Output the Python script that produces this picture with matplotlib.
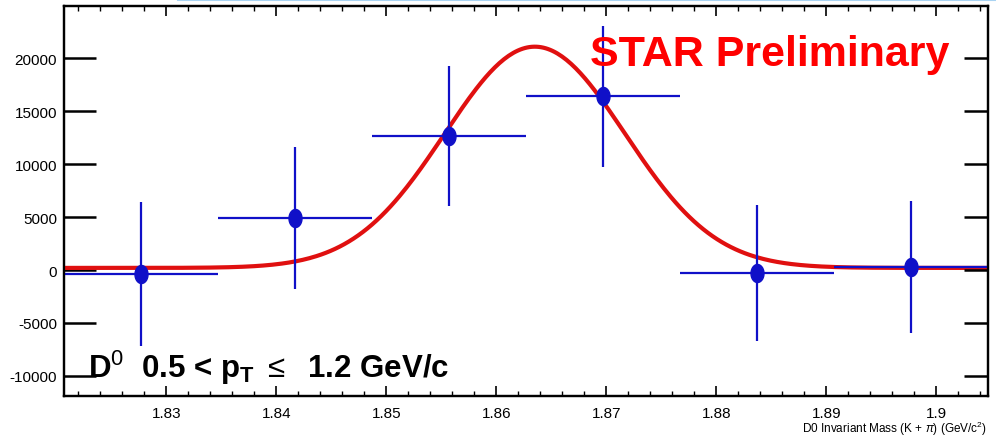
import numpy as np
import matplotlib

matplotlib.use("Agg")
import matplotlib.pyplot as plt
from matplotlib.lines import Line2D
from matplotlib.ticker import MultipleLocator, FuncFormatter

plt.rcParams["font.family"] = ["Liberation Sans", "DejaVu Sans"]
plt.rcParams["axes.unicode_minus"] = False
plt.rcParams["mathtext.fontset"] = "custom"
plt.rcParams["mathtext.rm"] = "Liberation Sans"
plt.rcParams["mathtext.bf"] = "Liberation Sans:bold"
plt.rcParams["mathtext.it"] = "Liberation Sans:italic"

# ---------- data ----------
mass = [1.8277, 1.8417, 1.8557, 1.8697, 1.8837, 1.8977]
counts = [-380, 4935, 12650, 16410, -300, 285]
counts_err = [6830, 6735, 6640, 6640, 6400, 6265]
bin_half_width = [0.007, 0.007, 0.007, 0.007, 0.007, 0.007]

# fit: gaussian + constant, parameters
fit_amp = 20900
fit_mean = 1.8635
fit_sigma = 0.0082
fit_const = 200

BLUE = "#1010c8"
RED = "#e01010"

fig = plt.figure(figsize=(9.96, 4.39), dpi=100)
ax = fig.add_axes([0.0643, 0.0957, 0.9277, 0.8873])

# fit curve
xf = np.linspace(1.8207, 1.9047, 400)
yf = fit_const + fit_amp * np.exp(-0.5 * ((xf - fit_mean) / fit_sigma) ** 2)
ax.plot(xf, yf, color=RED, lw=3.0, zorder=3, solid_capstyle="butt")

# data points with error bars (ellipse markers, like the stretched ROOT dots)
t = np.linspace(0, 2 * np.pi, 40)
ellipse = np.column_stack([0.72 * np.cos(t), np.sin(t)])
ax.errorbar(mass, counts, xerr=bin_half_width, yerr=counts_err,
            fmt="none", ecolor=BLUE, elinewidth=1.6, capsize=0, zorder=4)
ax.plot(mass, counts, ls="none", marker=ellipse, ms=13,
        color=BLUE, mec=BLUE, zorder=5)

ax.set_xlim(1.8207, 1.9047)
ax.set_ylim(-11900, 24900)

# ---------- ticks (ROOT style) ----------
ax.xaxis.set_major_locator(MultipleLocator(0.01))
ax.xaxis.set_minor_locator(MultipleLocator(0.002))
ax.xaxis.set_major_formatter(FuncFormatter(
    lambda v, p: "1.9" if abs(v - 1.9) < 1e-6 else f"{v:.2f}"))
ax.yaxis.set_major_locator(MultipleLocator(5000))
ax.tick_params(axis="x", which="major", direction="in", length=7.5,
               width=1.2, top=True, labelsize=11, pad=7)
ax.tick_params(axis="x", which="minor", direction="in", length=3.8,
               width=1.0, top=True)
ax.tick_params(axis="y", which="major", direction="in", length=23,
               width=1.8, labelsize=11, pad=5)

ax2 = ax.twinx()
ax2.set_ylim(ax.get_ylim())
ax2.yaxis.set_major_locator(MultipleLocator(5000))
ax2.tick_params(axis="y", direction="in", length=17, width=1.8,
                labelright=False)

for a in (ax, ax2):
    for s in a.spines.values():
        s.set_linewidth(1.6)

# ---------- texts ----------
ax.text(1.8685, 19355, "STAR Preliminary", color="#ff0000",
        fontsize=31, fontweight="bold", va="baseline", ha="left", zorder=6)

ax.text(1.8229, -10060,
        r"D$^{0}$  0.5 < p$_{\mathbf{T}}$ $\leq$  1.2 GeV/c",
        fontsize=22.5, fontweight="bold", va="baseline", ha="left", zorder=6)

fig.text(0.991, 0.014, r"D0 Invariant Mass (K + $\pi$) (GeV/c$^{2}$)",
         fontsize=8.5, ha="right", va="baseline")

# slide artefact: light blue rule at the very top
fig.add_artist(Line2D([0.179, 1.0], [0.998, 0.998], transform=fig.transFigure,
                      color="#a9d3f2", lw=1.5))

fig.savefig("out.png", dpi=100, facecolor="white")
